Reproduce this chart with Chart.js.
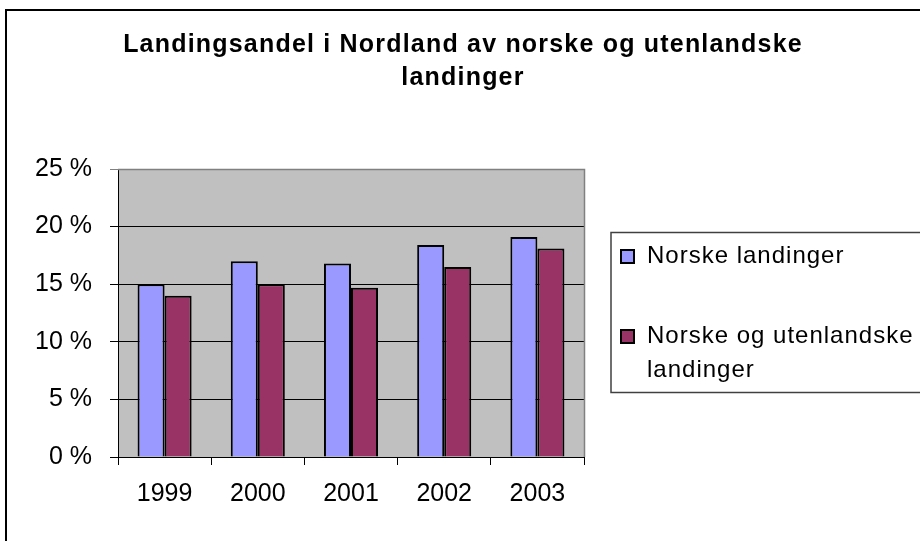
<!DOCTYPE html>
<html lang="no">
<head>
<meta charset="utf-8">
<title>Landingsandel i Nordland</title>
<script src="https://cdn.jsdelivr.net/npm/chart.js@4/dist/chart.umd.min.js"></script>
<style>
  html, body { margin: 0; padding: 0; background: #fff; }
  #wrap { width: 920px; height: 541px; position: relative; overflow: hidden; }
</style>
</head>
<body>
<div id="wrap"><canvas id="chart" width="920" height="541"></canvas></div>
<script>
// Landingsandel i Nordland — søylediagram (Chart.js)
// verdier lest av bildet, i prosent

var years = ['1999', '2000', '2001', '2002', '2003'];
var norske = [15.0, 17.0, 16.8, 18.4, 19.1];
var norskeOgUtenl = [14.0, 15.0, 14.7, 16.5, 18.1];
var seriesNames = ['Norske landinger', 'Norske og utenlandske landinger'];
var titleLines = ['Landingsandel i Nordland av norske og utenlandske', 'landinger'];
var yMax = 25;
var yStep = 5;

var FONT = "'Liberation Sans', Arial, sans-serif";

// ramme, grå plottflate, tittel og egen legende
var decor = {
  id: 'decor',
  beforeDraw: function (chart) {
    var ctx = chart.ctx, a = chart.chartArea;
    ctx.save();
    ctx.fillStyle = '#c0c0c0';
    ctx.fillRect(a.left, a.top, a.right - a.left, a.bottom - a.top);
    ctx.restore();
  },
  afterDraw: function (chart) {
    var ctx = chart.ctx, a = chart.chartArea;
    ctx.save();
    // grå kant øverst og til høyre på plottflaten
    ctx.strokeStyle = '#808080';
    ctx.lineWidth = 1.5;
    ctx.beginPath();
    ctx.moveTo(a.left, a.top + 0.5);
    ctx.lineTo(a.right + 0.5, a.top + 0.5);
    ctx.lineTo(a.right + 0.5, a.bottom);
    ctx.stroke();

    // ytre ramme (går ut av bildet til høyre og nederst)
    ctx.strokeStyle = '#000';
    ctx.lineWidth = 2;
    ctx.strokeRect(6, 10, 1000, 1000);

    // tittel
    ctx.fillStyle = '#000';
    ctx.font = 'bold 25px ' + FONT;
    ctx.textAlign = 'center';
    ctx.textBaseline = 'alphabetic';
    ctx.letterSpacing = '1.2px';
    ctx.fillText(titleLines[0], 463, 52);
    ctx.fillText(titleLines[1], 463, 85);

    // legende
    ctx.strokeStyle = '#404040';
    ctx.lineWidth = 1.5;
    ctx.strokeRect(611, 232.5, 400, 160);
    ctx.font = '24px ' + FONT;
    ctx.letterSpacing = '1px';
    ctx.textAlign = 'left';
    var baselines = [263, 343];
    chart.data.datasets.forEach(function (ds, i) {
      var y = baselines[i];
      ctx.fillStyle = ds.backgroundColor;
      ctx.fillRect(621, y - 13, 13, 13);
      ctx.strokeStyle = '#000';
      ctx.lineWidth = 2;
      ctx.strokeRect(621, y - 13, 13, 13);
      ctx.fillStyle = '#000';
      var words = ds.label.split(' '), line = '', lines = [];
      words.forEach(function (w) {
        var t = line ? line + ' ' + w : w;
        if (ctx.measureText(t).width > 272 && line) { lines.push(line); line = w; }
        else line = t;
      });
      lines.push(line);
      lines.forEach(function (l, k) { ctx.fillText(l, 647, y + k * 34); });
    });
    ctx.restore();
  }
};

new Chart(document.getElementById('chart').getContext('2d'), {
  type: 'bar',
  data: {
    labels: years,
    datasets: [{
      label: seriesNames[0],
      data: norske,
      backgroundColor: '#9999ff',
      borderColor: '#000',
      borderWidth: 2
    }, {
      label: seriesNames[1],
      data: norskeOgUtenl,
      backgroundColor: '#993366',
      borderColor: '#000',
      borderWidth: 2
    }]
  },
  options: {
    responsive: false,
    animation: false,
    layout: { padding: { left: 0, right: 336, top: 169, bottom: 0 } },
    datasets: { bar: { categoryPercentage: 0.58, barPercentage: 1 } },
    plugins: {
      legend: { display: false },
      title: { display: false },
      tooltip: { enabled: false }
    },
    scales: {
      x: {
        afterFit: function (s) { s.height = 84; },
        grid: { drawOnChartArea: false, drawTicks: true, tickLength: 8, color: '#000', offset: true },
        border: { color: '#000', width: 1 },
        ticks: { color: '#000', padding: 14, font: { family: FONT, size: 25 } }
      },
      y: {
        min: 0,
        max: yMax,
        afterFit: function (s) { s.width = 118; },
        grid: {
          color: function (c) { return c.tick && c.tick.value === yMax ? '#808080' : '#000'; },
          lineWidth: 1,
          tickLength: 8
        },
        border: { color: '#000', width: 1 },
        ticks: {
          stepSize: yStep,
          color: '#000',
          padding: 18,
          font: { family: FONT, size: 25 },
          callback: function (v) { return v + ' %'; }
        }
      }
    }
  },
  plugins: [decor]
});
</script>
</body>
</html>
